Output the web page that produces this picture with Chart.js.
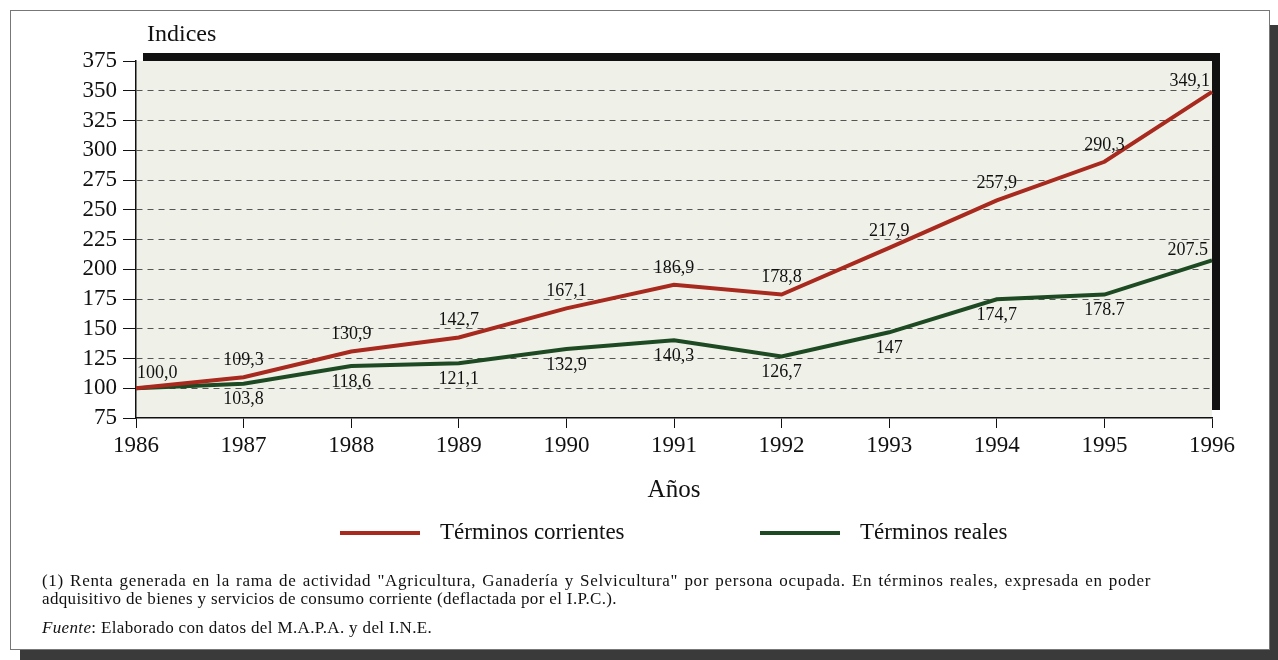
<!DOCTYPE html>
<html><head><meta charset="utf-8">
<script src="https://cdn.jsdelivr.net/npm/chart.js@4"></script>
<style>
html,body{margin:0;padding:0;background:#fff;}
body{width:1278px;height:660px;position:relative;overflow:hidden;font-family:"Liberation Serif","Times New Roman",serif;}
#shadow{position:absolute;left:20px;top:25px;width:1258px;height:635px;background:#3a3a3a;}
#frame{position:absolute;left:10px;top:10px;width:1260px;height:640px;background:#fff;border:1px solid #777;box-sizing:border-box;}
#wrap{position:absolute;left:0;top:0;width:1278px;height:660px;}
.note{position:absolute;left:42px;font-size:17px;line-height:18px;letter-spacing:0.35px;color:#111;white-space:nowrap;}
.just{width:1109px;text-align:justify;text-align-last:justify;white-space:normal;letter-spacing:0.7px;}
</style></head>
<body>
<div id="shadow"></div>
<div id="frame"></div>
<div id="wrap"><canvas id="c" width="1278" height="660"></canvas></div>
<div class="note just" style="top:572px">(1) Renta generada en la rama de actividad "Agricultura, Ganadería y Selvicultura" por persona ocupada. En términos reales, expresada en poder</div>
<div class="note" style="top:590px">adquisitivo de bienes y servicios de consumo corriente (deflactada por el I.P.C.).</div>
<div class="note" style="top:619px"><i>Fuente</i>: Elaborado con datos del M.A.P.A. y del I.N.E.</div>
<script>
const years = ['1986','1987','1988','1989','1990','1991','1992','1993','1994','1995','1996'];
const corrientes = [100.0,109.3,130.9,142.7,167.1,186.9,178.8,217.9,257.9,290.3,349.1];
const reales = [100.0,103.8,118.6,121.1,132.9,140.3,126.7,147,174.7,178.7,207.5];
const labelsCorrientes = ['100,0','109,3','130,9','142,7','167,1','186,9','178,8','217,9','257,9','290,3','349,1'];
const labelsReales = ['','103,8','118,6','121,1','132,9','140,3','126,7','147','174,7','178.7','207.5'];
const seriesNames = ['Términos corrientes','Términos reales'];
const yTitle = 'Indices';
const xTitle = 'Años';

const FONT = '"Liberation Serif","Times New Roman",serif';

const plotBg = {
  id:'plotBg',
  beforeDraw(chart){
    const {ctx, chartArea:a} = chart;
    ctx.save();
    ctx.fillStyle = '#111';
    ctx.fillRect(a.left+7, a.top-8, a.right-a.left+1, a.bottom-a.top);
    ctx.fillStyle = '#eff1e8';
    ctx.fillRect(a.left, a.top, a.right-a.left, a.bottom-a.top);
    ctx.restore();
  }
};

const topTitle = {
  id:'topTitle',
  afterDraw(chart){
    const ctx = chart.ctx;
    ctx.save();
    ctx.font = '24px ' + FONT;
    ctx.fillStyle = '#111';
    ctx.textAlign = 'left';
    ctx.textBaseline = 'middle';
    ctx.fillText(yTitle, 147, 35);
    ctx.restore();
  }
};

const valueLabels = {
  id:'valueLabels',
  afterDatasetsDraw(chart){
    const ctx = chart.ctx;
    ctx.save();
    ctx.font = '18px ' + FONT;
    ctx.fillStyle = '#111';
    ctx.textBaseline = 'middle';
    const sets = [labelsCorrientes, labelsReales];
    sets.forEach((labs, di) => {
      const meta = chart.getDatasetMeta(di);
      const n = labs.length;
      labs.forEach((t, i) => {
        if (!t) return;
        const p = meta.data[i];
        let x = p.x, y = p.y, align = 'center';
        if (di === 0) {
          if (i === 0) { align = 'left'; x += 1; y -= 15; }
          else if (i === n-1) { align = 'right'; x -= 2; y -= 11; }
          else { y -= 17; }
        } else {
          if (i === n-1) { align = 'right'; x -= 4; y -= 10; }
          else { y += 16; }
        }
        ctx.textAlign = align;
        ctx.fillText(t, x, y);
      });
    });
    ctx.restore();
  }
};

const lineLegend = {
  id:'lineLegend',
  afterDraw(chart, args, opts){
    const ctx = chart.ctx;
    ctx.save();
    ctx.font = '23px ' + FONT;
    ctx.textBaseline = 'middle';
    ctx.textAlign = 'left';
    chart.data.datasets.forEach((ds, i) => {
      const it = opts.items[i];
      ctx.strokeStyle = ds.borderColor;
      ctx.lineWidth = 4;
      ctx.beginPath();
      ctx.moveTo(it.x, it.y);
      ctx.lineTo(it.x + opts.lineLen, it.y);
      ctx.stroke();
      ctx.fillStyle = '#111';
      ctx.fillText(ds.label, it.x + opts.lineLen + opts.gap, it.y);
    });
    ctx.restore();
  }
};

new Chart(document.getElementById('c'), {
  type:'line',
  data:{
    labels: years,
    datasets:[
      {label: seriesNames[0], data: corrientes, borderColor:'#a8291e', borderWidth:4, pointRadius:0, tension:0, fill:false},
      {label: seriesNames[1], data: reales, borderColor:'#1d4a22', borderWidth:4, pointRadius:0, tension:0, fill:false}
    ]
  },
  options:{
    responsive:false,
    animation:false,
    devicePixelRatio:1,
    layout:{padding:{left:0, top:61, right:66, bottom:155}},
    plugins:{
      legend:{display:false},
      tooltip:{enabled:false},
      lineLegend:{items:[{x:340,y:533},{x:760,y:533}], lineLen:80, gap:20}
    },
    scales:{
      x:{
        offset:false,
        ticks:{color:'#111', font:{family:FONT, size:23}, padding:4, maxRotation:0, autoSkip:false},
        grid:{drawOnChartArea:false, drawTicks:true, tickLength:10, tickColor:'#111', color:'#111'},
        border:{display:true, color:'#111', width:1.5},
        title:{display:true, text:xTitle, color:'#111', font:{family:FONT, size:25}, padding:{top:0,bottom:0}},
        afterFit(s){ s.height = 87; }
      },
      y:{
        min:75, max:375,
        ticks:{stepSize:25, color:'#111', font:{family:FONT, size:23}, padding:6, autoSkip:false},
        grid:{
          color: c => (c.tick && (c.tick.value===75 || c.tick.value===375)) ? 'rgba(0,0,0,0)' : '#555',
          lineWidth:1, tickLength:13, tickColor:'#111', drawTicks:true
        },
        border:{display:true, color:'#111', width:1.5, dash:[6,5]},
        afterFit(s){ s.width = 136; }
      }
    }
  },
  plugins:[plotBg, topTitle, valueLabels, lineLegend]
});
</script>
</body></html>
